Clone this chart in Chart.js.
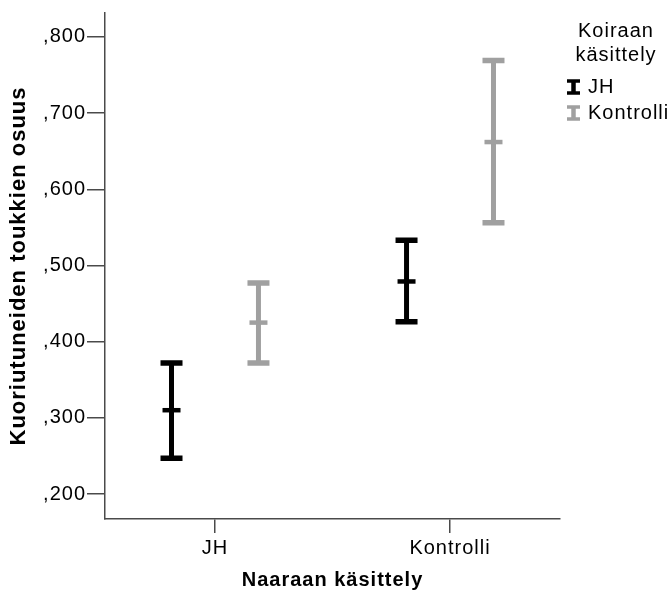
<!DOCTYPE html>
<html>
<head>
<meta charset="utf-8">
<script src="https://cdn.jsdelivr.net/npm/chart.js@4.4.1/dist/chart.umd.min.js"></script>
<style>
  html, body { margin: 0; padding: 0; background: #fff; }
  #wrap { width: 672px; height: 593px; }
</style>
</head>
<body>
<div id="wrap"><canvas id="chart"></canvas></div>
<script>
// Naaraan käsittely (x categories)
const categories = ['JH', 'Kontrolli']
// Koiraan käsittely (series)
const seriesNames = ['JH', 'Kontrolli']
const seriesColors = ['#000000', '#a0a0a0']

// means and error bar limits
const meanJH = [0.310, 0.479]
const lowJH = [0.247, 0.426]
const highJH = [0.372, 0.533]

const meanKontrolli = [0.425, 0.662]
const lowKontrolli = [0.372, 0.556]
const highKontrolli = [0.477, 0.769]

const yTicks = [0.2, 0.3, 0.4, 0.5, 0.6, 0.7, 0.8]

const dodge = 0.185
const axisColor = '#4a4a4a'
const font = 'Liberation Sans, Arial, sans-serif'

function makeSet(name, color, means, lows, highs, offset) {
  return {
    label: name,
    data: means.map((m, i) => ({ x: i + offset, y: m })),
    lows: lows,
    highs: highs,
    borderColor: color,
    backgroundColor: color,
    pointRadius: 0,
    showLine: false
  }
}

const spacing = {
  id: 'spacing',
  beforeUpdate(chart) { chart.ctx.letterSpacing = '1px' },
  beforeDraw(chart) { chart.ctx.letterSpacing = '1px' }
}

// draws the error bars: whiskers, caps and a mean tick
const errorBars = {
  id: 'errorBars',
  afterDatasetsDraw(chart) {
    const ctx = chart.ctx
    const xs = chart.scales.x
    const ys = chart.scales.y
    chart.data.datasets.forEach(ds => {
      ds.data.forEach((pt, i) => {
        const x = xs.getPixelForValue(pt.x)
        const yLo = ys.getPixelForValue(ds.lows[i])
        const yHi = ys.getPixelForValue(ds.highs[i])
        const yM = ys.getPixelForValue(pt.y)
        ctx.save()
        ctx.strokeStyle = ds.borderColor
        ctx.lineCap = 'butt'
        ctx.lineWidth = 5
        ctx.beginPath()
        ctx.moveTo(x, yHi)
        ctx.lineTo(x, yLo)
        ctx.stroke()
        ctx.lineWidth = 5.5
        ctx.beginPath()
        ctx.moveTo(x - 11, yHi)
        ctx.lineTo(x + 11, yHi)
        ctx.moveTo(x - 11, yLo)
        ctx.lineTo(x + 11, yLo)
        ctx.stroke()
        ctx.lineWidth = 4.5
        ctx.beginPath()
        ctx.moveTo(x - 9, yM)
        ctx.lineTo(x + 9, yM)
        ctx.stroke()
        ctx.restore()
      })
    })
  }
}

// legend on the right with I-beam icons
const sideLegend = {
  id: 'sideLegend',
  afterDraw(chart) {
    const ctx = chart.ctx
    ctx.save()
    ctx.letterSpacing = '1px'
    ctx.fillStyle = '#000'
    ctx.font = '20px ' + font
    ctx.textAlign = 'center'
    ctx.textBaseline = 'middle'
    ctx.fillText('Koiraan', 616, 31)
    ctx.fillText('käsittely', 616, 55)
    const rows = [87, 113]
    chart.data.datasets.forEach((ds, k) => {
      const cx = 573.5
      const cy = rows[k]
      ctx.strokeStyle = ds.borderColor
      ctx.lineWidth = 4.5
      ctx.beginPath()
      ctx.moveTo(cx, cy - 7)
      ctx.lineTo(cx, cy + 7)
      ctx.stroke()
      ctx.lineWidth = 3.5
      ctx.beginPath()
      ctx.moveTo(cx - 6.5, cy - 6)
      ctx.lineTo(cx + 6.5, cy - 6)
      ctx.moveTo(cx - 6.5, cy + 6)
      ctx.lineTo(cx + 6.5, cy + 6)
      ctx.stroke()
      ctx.fillStyle = '#000'
      ctx.textAlign = 'left'
      ctx.fillText(ds.label, 588, cy)
    })
    ctx.restore()
  }
}

new Chart(document.getElementById('chart'), {
  type: 'scatter',
  data: {
    datasets: [
      makeSet(seriesNames[0], seriesColors[0], meanJH, lowJH, highJH, -dodge),
      makeSet(seriesNames[1], seriesColors[1], meanKontrolli, lowKontrolli, highKontrolli, dodge)
    ]
  },
  options: {
    responsive: true,
    maintainAspectRatio: false,
    animation: false,
    layout: { padding: { top: 12, right: 112, left: 0, bottom: 0 } },
    plugins: {
      legend: { display: false },
      tooltip: { enabled: false }
    },
    scales: {
      x: {
        type: 'linear',
        min: -0.468,
        max: 1.468,
        afterBuildTicks: scale => { scale.ticks = categories.map((c, i) => ({ value: i })) },
        afterFit: scale => { scale.height = 74 },
        border: { color: axisColor, width: 1.5 },
        grid: { drawOnChartArea: false, drawTicks: true, tickLength: 14, color: axisColor, lineWidth: 1.5 },
        ticks: {
          color: '#000',
          padding: 3,
          font: { family: font, size: 20 },
          callback: v => categories[v]
        },
        title: {
          display: true,
          text: 'Naaraan käsittely',
          color: '#000',
          padding: { top: 0, bottom: 1 },
          font: { family: font, size: 20, weight: 'bold' }
        }
      },
      y: {
        min: 0.1672,
        max: 0.8314,
        afterBuildTicks: scale => { scale.ticks = yTicks.map(v => ({ value: v })) },
        afterFit: scale => { scale.width = 105 },
        border: { color: axisColor, width: 1.5 },
        grid: { drawOnChartArea: false, drawTicks: true, tickLength: 18, color: axisColor, lineWidth: 1.5 },
        ticks: {
          color: '#000',
          padding: 1,
          font: { family: font, size: 20 },
          callback: v => v.toFixed(3).replace('0.', ',')
        },
        title: {
          display: true,
          text: 'Kuoriutuneiden toukkien osuus',
          color: '#000',
          padding: { top: 6, bottom: 0 },
          font: { family: font, size: 22, weight: 'bold' }
        }
      }
    }
  },
  plugins: [spacing, errorBars, sideLegend]
})
</script>
</body>
</html>
